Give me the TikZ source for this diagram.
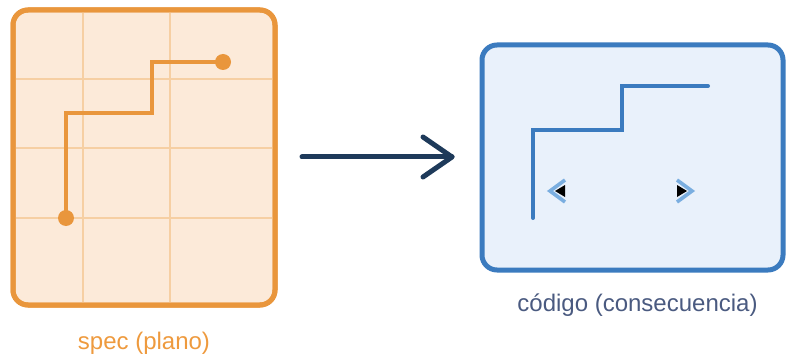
\documentclass[tikz,border=0pt]{standalone}
\usepackage{fontspec}
\setmainfont{Liberation Sans}
\usetikzlibrary{calc}
\definecolor{ostroke}{HTML}{E9963C}
\definecolor{ofill}{HTML}{FCEAD9}
\definecolor{ogrid}{HTML}{F6CFA3}
\definecolor{otext}{HTML}{EE9A3E}
\definecolor{bstroke}{HTML}{3B7BBF}
\definecolor{bfill}{HTML}{E9F1FB}
\definecolor{btext}{HTML}{4A5A80}
\definecolor{navy}{HTML}{1E3A5A}
\definecolor{chev}{HTML}{7AAEE0}
\tikzset{
  panel/.style={rectangle, rounded corners=15pt, line width=5pt, inner sep=0pt},
  gridline/.style={ogrid, line width=1.6pt},
  opath/.style={ostroke, line width=4pt},
  bpath/.style={bstroke, line width=4pt, line cap=round},
  flow/.style={navy, line width=5pt, line cap=round, line join=round},
  lbl/.style={font=\fontsize{24}{29}\selectfont, inner sep=0pt},
  chevline/.style={chev, line width=3.6pt, line join=miter},
}
\begin{document}
\begin{tikzpicture}[x=1pt,y=-1pt]
\useasboundingbox (0,0) rectangle (786,358);
% spec panel
\node[panel, draw=ostroke, fill=ofill, minimum width=262pt, minimum height=295pt] (spec) at (144,157.5) {};
\foreach \gx in {83,170} \draw[gridline] (\gx,12.5) -- (\gx,302.5);
\foreach \gy in {79,148,218} \draw[gridline] (15.5,\gy) -- (272.5,\gy);
\draw[panel, draw=ostroke] (13,10) rectangle (275,305);
\coordinate (s0) at (66,218);
\coordinate (s1) at (223,62);
\draw[opath] (s0) |- (152,113) |- (s1);
\fill[ostroke] (s0) circle (8);
\fill[ostroke] (s1) circle (8);
\node[lbl, text=otext] (speclbl) at (144,343) {spec (plano)};
% code panel
\node[panel, draw=bstroke, fill=bfill, minimum width=301pt, minimum height=225pt] (code) at (632.5,157.5) {};
\coordinate (c0) at (533,218);
\coordinate (c1) at (708,86);
\draw[bpath] (c0) |- (622,130) |- (c1);
% markers
\coordinate (ml) at (550,191);
\coordinate (mr) at (692,191);
\draw[chevline] ($(ml)+(15,-11)$) -- (ml) -- ($(ml)+(15,11)$);
\fill[black] ($(ml)+(5,0)$) -- ($(ml)+(15,-6)$) -- ($(ml)+(15,6)$) -- cycle;
\draw[chevline] ($(mr)+(-15,-11)$) -- (mr) -- ($(mr)+(-15,11)$);
\fill[black] ($(mr)+(-5,0)$) -- ($(mr)+(-15,-6)$) -- ($(mr)+(-15,6)$) -- cycle;
\node[lbl, text=btext] (codelbl) at (637.5,305) {código (consecuencia)};
% arrow
\coordinate (a0) at (302,157);
\coordinate (a1) at (452,157);
\draw[flow] (a0) -- (a1);
\draw[flow] ($(a1)+(-29,-20)$) -- (a1) -- ($(a1)+(-29,20)$);
\end{tikzpicture}
\end{document}
